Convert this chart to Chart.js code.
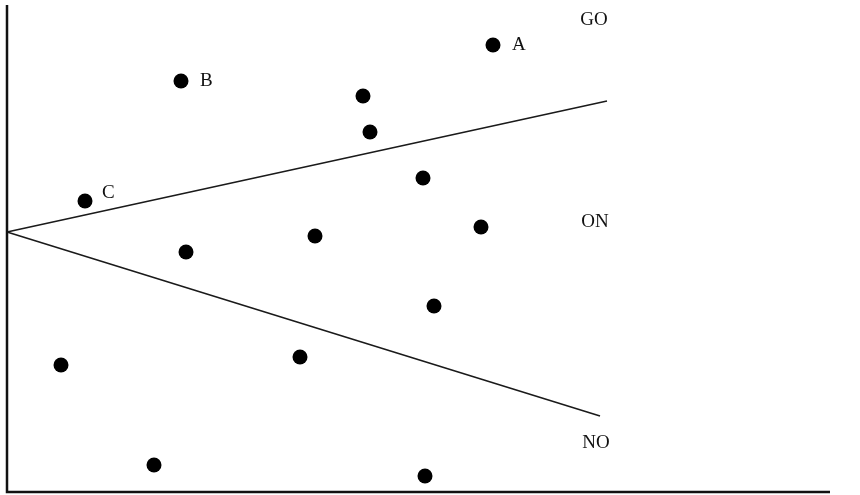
<!DOCTYPE html>
<html>
<head>
<meta charset="utf-8">
<script src="https://cdn.jsdelivr.net/npm/chart.js@4.4.1/dist/chart.umd.min.js"></script>
<style>
  html, body { margin: 0; padding: 0; background: #fff; overflow: hidden; }
  #wrap { width: 860px; height: 495px; }
  canvas { display: block; }
</style>
</head>
<body>
<div id="wrap"><canvas id="chart" width="860" height="495"></canvas></div>
<script>
// points (x, y) in plot units, origin at the axes corner
const pointX = [486, 174, 356, 363, 78, 416, 474, 308, 179, 427, 54, 293, 147, 418];
const pointY = [447, 411, 396, 360, 291, 314, 265, 256, 240, 186, 127, 135, 27, 16];
const pointNames = ['A', 'B', '', '', 'C', '', '', '', '', '', '', '', '', ''];

// the two boundary lines from the shared vertex
const upperLineX = [0, 600];
const upperLineY = [260, 391];
const lowerLineX = [0, 593];
const lowerLineY = [260, 76];

// zone labels (centre of the text)
const zoneNames = ['GO', 'ON', 'NO'];
const zoneX = [587, 588, 589];
const zoneY = [472, 270, 49];

const toXY = (xs, ys) => xs.map((x, i) => ({ x: x, y: ys[i] }));

// draws the axes, point letters and zone names
const textPlugin = {
    id: 'textPlugin',
    afterDatasetsDraw(chart) {
        const ctx = chart.ctx;
        const xs = chart.scales.x, ys = chart.scales.y;
        const area = chart.chartArea;
        ctx.save();
        // axes
        ctx.strokeStyle = '#111';
        ctx.lineWidth = 2.5;
        ctx.beginPath();
        ctx.moveTo(area.left, area.top);
        ctx.lineTo(area.left, area.bottom);
        ctx.lineTo(area.right - 30, area.bottom);
        ctx.stroke();

        ctx.fillStyle = '#111';
        ctx.font = '19px "Liberation Serif", "DejaVu Serif", serif';
        ctx.textBaseline = 'middle';
        ctx.textAlign = 'left';
        pointNames.forEach((name, i) => {
            if (!name) return;
            let px = xs.getPixelForValue(pointX[i]) + 19;
            let py = ys.getPixelForValue(pointY[i]);
            if (name === 'C') { px = px - 2; py = py - 8; }
            ctx.fillText(name, px, py);
        });
        ctx.textAlign = 'center';
        zoneNames.forEach((name, i) => {
            ctx.fillText(name, xs.getPixelForValue(zoneX[i]), ys.getPixelForValue(zoneY[i]));
        });
        ctx.restore();
    }
};

const ctx = document.getElementById('chart').getContext('2d');
new Chart(ctx, {
    type: 'scatter',
    data: {
        datasets: [
            {
                data: toXY(upperLineX, upperLineY),
                showLine: true,
                borderColor: '#1a1a1a',
                borderWidth: 1.6,
                pointRadius: 0,
                clip: false
            },
            {
                data: toXY(lowerLineX, lowerLineY),
                showLine: true,
                borderColor: '#1a1a1a',
                borderWidth: 1.6,
                pointRadius: 0,
                clip: false
            },
            {
                data: toXY(pointX, pointY),
                showLine: false,
                pointRadius: 7.5,
                pointBackgroundColor: '#000',
                pointBorderWidth: 0,
                clip: false
            }
        ]
    },
    options: {
        responsive: false,
        animation: false,
        events: [],
        layout: { autoPadding: false, padding: { left: 7, top: 5, right: 0, bottom: 3 } },
        plugins: {
            legend: { display: false },
            tooltip: { enabled: false }
        },
        scales: {
            x: { type: 'linear', min: 0, max: 853, display: false },
            y: { type: 'linear', min: 0, max: 487, display: false }
        }
    },
    plugins: [textPlugin]
});
</script>
</body>
</html>
